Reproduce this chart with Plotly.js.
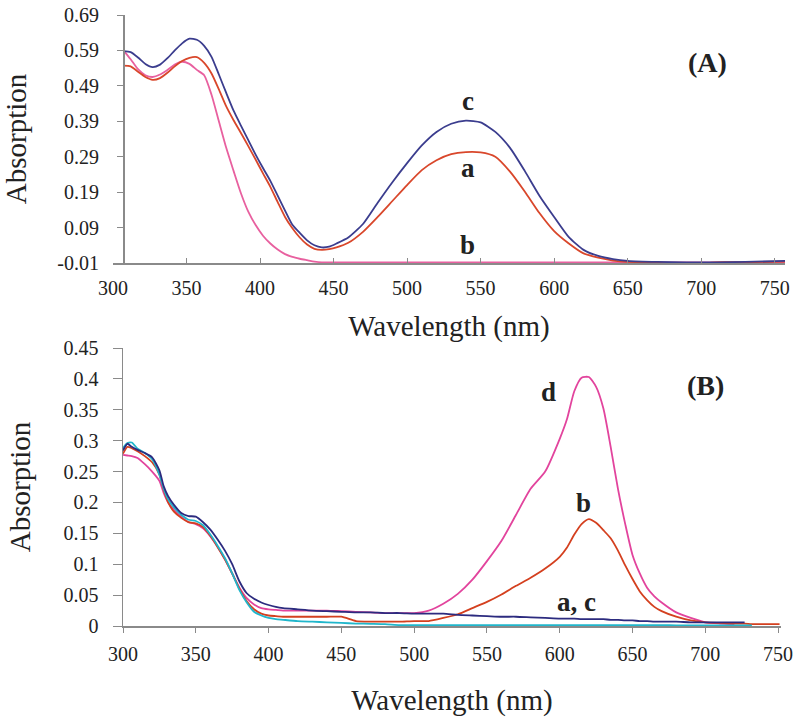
<!DOCTYPE html>
<html>
<head>
<meta charset="utf-8">
<script src="https://cdn.plot.ly/plotly-3.0.1.min.js"></script>
<style>
  html, body { margin: 0; padding: 0; background: #fff; }
  #chart { width: 800px; height: 721px; }
</style>
</head>
<body>
<div id="chart"></div>
<script>
// ---- panel (A): UV-vis of a, b, c ----
var wlA = [307, 312, 317, 322, 327, 332, 337, 342, 347, 352, 357, 362, 367, 372, 377, 382, 387, 392, 397, 402,
  407, 412, 417, 422, 427, 432, 437, 442, 447, 452, 460, 470, 480, 490, 500, 510, 520, 530, 540, 550,
  560, 570, 580, 590, 600, 610, 620, 630, 640, 650, 670, 690, 710, 730, 757];

var absA_a = [0.547, 0.545, 0.530, 0.515, 0.507, 0.512, 0.527, 0.545, 0.560, 0.569, 0.571, 0.555, 0.525, 0.480, 0.432, 0.393, 0.357, 0.320, 0.282, 0.243,
  0.205, 0.162, 0.120, 0.088, 0.062, 0.042, 0.030, 0.027, 0.029, 0.034, 0.047, 0.078, 0.120, 0.165, 0.210, 0.252, 0.280, 0.297, 0.303, 0.302,
  0.290, 0.248, 0.192, 0.131, 0.080, 0.045, 0.017, 0.005, -0.003, -0.007, -0.008, -0.015, -0.008, -0.008, -0.006];

var absA_b = [0.591, 0.565, 0.537, 0.520, 0.515, 0.522, 0.535, 0.550, 0.558, 0.552, 0.535, 0.520, 0.465, 0.390, 0.315, 0.250, 0.187, 0.135, 0.097, 0.067,
  0.045, 0.028, 0.015, 0.007, 0.002, -0.002, -0.006, -0.008, -0.008, -0.008, -0.008, -0.008, -0.008, -0.008, -0.008, -0.008, -0.008, -0.008, -0.008, -0.008,
  -0.008, -0.008, -0.008, -0.008, -0.008, -0.008, -0.008, -0.008, -0.008, -0.008, -0.008, -0.008, -0.008, -0.008, -0.008];

var absA_c = [0.588, 0.585, 0.570, 0.552, 0.543, 0.550, 0.568, 0.590, 0.610, 0.623, 0.620, 0.603, 0.572, 0.522, 0.470, 0.420, 0.378, 0.337, 0.296, 0.258,
  0.222, 0.180, 0.138, 0.098, 0.075, 0.054, 0.040, 0.034, 0.036, 0.045, 0.062, 0.100, 0.160, 0.218, 0.272, 0.322, 0.360, 0.383, 0.392, 0.387,
  0.360, 0.315, 0.250, 0.180, 0.120, 0.063, 0.027, 0.010, 0.001, -0.004, -0.007, -0.008, -0.008, -0.007, -0.004];

var tickA = [-0.01, 0.09, 0.19, 0.29, 0.39, 0.49, 0.59, 0.69];
var tickA_text = ['-0.01', '0.09', '0.19', '0.29', '0.39', '0.49', '0.59', '0.69'];

// ---- panel (B): a, b, c, d ----
var wlB = [300, 303, 306, 310, 315, 320, 325, 328, 331, 335, 340, 345, 350, 355, 360, 365, 370, 375, 380, 385,
  390, 395, 400, 405, 410, 420, 430, 440, 450, 460, 470, 480, 490, 500, 510, 520, 530, 540, 550, 560,
  570, 580, 590, 600, 605, 610, 615, 620, 625, 630, 635, 640, 645, 650, 655, 660, 665, 670, 680, 690,
  700, 710, 720, 727, 732, 740, 751];

var absB_a = [0.284, 0.295, 0.290, 0.285, 0.280, 0.273, 0.252, 0.226, 0.210, 0.196, 0.183, 0.178, 0.177, 0.168, 0.156, 0.140, 0.122, 0.100, 0.072, 0.053,
  0.044, 0.038, 0.034, 0.031, 0.029, 0.027, 0.025, 0.024, 0.023, 0.022, 0.022, 0.021, 0.021, 0.020, 0.020, 0.020, 0.018, 0.017, 0.016, 0.015,
  0.015, 0.014, 0.013, 0.012, 0.012, 0.012, 0.011, 0.011, 0.011, 0.011, 0.010, 0.010, 0.009, 0.009, 0.008, 0.008, 0.007, 0.007, 0.007, 0.006,
  0.006, 0.006, 0.006, 0.006, null, null, null];

var absB_b = [0.279, 0.290, 0.288, 0.283, 0.275, 0.265, 0.245, 0.220, 0.200, 0.185, 0.175, 0.168, 0.166, 0.160, 0.146, 0.128, 0.108, 0.085, 0.060, 0.040,
  0.027, 0.020, 0.017, 0.016, 0.015, 0.015, 0.015, 0.015, 0.015, 0.008, 0.007, 0.007, 0.007, 0.008, 0.008, 0.013, 0.019, 0.029, 0.039, 0.051,
  0.065, 0.078, 0.093, 0.112, 0.127, 0.148, 0.165, 0.173, 0.167, 0.155, 0.142, 0.122, 0.098, 0.076, 0.056, 0.042, 0.031, 0.024, 0.015, 0.009,
  0.006, 0.005, 0.004, 0.004, 0.003, 0.003, 0.003];

var absB_c = [0.288, 0.296, 0.297, 0.287, 0.280, 0.270, 0.245, 0.222, 0.205, 0.192, 0.180, 0.172, 0.170, 0.163, 0.148, 0.130, 0.110, 0.085, 0.058, 0.038,
  0.023, 0.017, 0.013, 0.011, 0.010, 0.008, 0.007, 0.006, 0.005, 0.004, 0.0035, 0.003, 0.0015, 0.0015, 0.0015, 0.0015, 0.0015, 0.0015, 0.0015, 0.0015,
  0.0015, 0.0015, 0.0015, 0.0015, 0.0015, 0.0015, 0.0015, 0.0015, 0.0015, 0.0015, 0.0015, 0.0015, 0.0015, 0.0015, 0.0015, 0.0015, 0.0015, 0.0015, 0.001, 0.001,
  0.001, 0.001, 0.001, 0.001, 0.001, null, null];

var absB_d = [0.277, 0.276, 0.275, 0.272, 0.262, 0.250, 0.235, 0.215, 0.200, 0.188, 0.177, 0.168, 0.165, 0.158, 0.145, 0.128, 0.108, 0.085, 0.062, 0.045,
  0.035, 0.029, 0.027, 0.026, 0.025, 0.025, 0.025, 0.025, 0.024, 0.023, 0.022, 0.021, 0.021, 0.021, 0.025, 0.036, 0.052, 0.075, 0.105, 0.138,
  0.180, 0.222, 0.250, 0.303, 0.335, 0.380, 0.402, 0.403, 0.387, 0.352, 0.290, 0.222, 0.165, 0.115, 0.085, 0.062, 0.048, 0.038, 0.022, 0.013,
  0.006, 0.004, 0.003, null, null, null, null];

var tickB = [0, 0.05, 0.1, 0.15, 0.2, 0.25, 0.3, 0.35, 0.4, 0.45];
var tickB_text = ['0', '0.05', '0.1', '0.15', '0.2', '0.25', '0.3', '0.35', '0.4', '0.45'];

var wlTicks = [300, 350, 400, 450, 500, 550, 600, 650, 700, 750];

var serif = 'Liberation Serif';
var axisGrey = '#8a8a8a';

function line(x, y, color, xa, ya) {
  return {
    type: 'scatter', mode: 'lines', x: x, y: y,
    xaxis: xa, yaxis: ya, connectgaps: false,
    line: { color: color, width: 1.8, shape: 'spline', smoothing: 0.6 },
    hoverinfo: 'skip', showlegend: false
  };
}

var data = [
  line(wlA, absA_b, '#e8609f', 'x', 'y'),
  line(wlA, absA_a, '#d9472b', 'x', 'y'),
  line(wlA, absA_c, '#3b3d8e', 'x', 'y'),
  line(wlB, absB_d, '#e2449d', 'x2', 'y2'),
  line(wlB, absB_b, '#d4401f', 'x2', 'y2'),
  line(wlB, absB_c, '#20b6cb', 'x2', 'y2'),
  line(wlB, absB_a, '#2c2b7f', 'x2', 'y2')
];

function f(size) { return { family: serif, size: size, color: '#222' }; }

var layout = {
  width: 800, height: 721,
  margin: { l: 0, r: 0, t: 0, b: 0 },
  paper_bgcolor: '#fff', plot_bgcolor: '#fff',
  font: f(20),
  xaxis: {
    domain: [113 / 800, 785 / 800], range: [300, 757], anchor: 'y',
    tickvals: wlTicks, ticks: 'inside', ticklen: 5, tickcolor: axisGrey,
    showline: true, linecolor: axisGrey, linewidth: 1.5, showgrid: false, zeroline: false,
    tickfont: f(20), ticklabelstandoff: 6,
    title: { text: 'Wavelength (nm)', font: f(29), standoff: 18 }
  },
  yaxis: {
    domain: [1 - 263 / 721, 1 - 15 / 721], range: [-0.01, 0.69],
    anchor: 'free', position: 123 / 800,
    tickvals: tickA, ticktext: tickA_text, ticks: 'outside', ticklen: 6, tickcolor: axisGrey,
    showline: true, linecolor: axisGrey, linewidth: 1.5, showgrid: false, zeroline: false,
    tickfont: f(20), ticklabelstandoff: 14,
    title: { text: 'Absorption', font: f(29), standoff: 24 }
  },
  xaxis2: {
    domain: [123 / 800, 781 / 800], range: [300, 752], anchor: 'y2',
    tickvals: wlTicks, ticks: 'outside', ticklen: 5, tickcolor: axisGrey,
    showline: true, linecolor: axisGrey, linewidth: 1.5, showgrid: false, zeroline: false,
    tickfont: f(20), ticklabelstandoff: 4,
    title: { text: 'Wavelength (nm)', font: f(29), standoff: 26 }
  },
  yaxis2: {
    domain: [1 - 626 / 721, 1 - 348 / 721], range: [0, 0.45], anchor: 'x2',
    tickvals: tickB, ticktext: tickB_text, ticks: 'outside', ticklen: 9, tickcolor: axisGrey,
    showline: true, linecolor: axisGrey, linewidth: 1.5, showgrid: false, zeroline: false,
    tickfont: f(20), ticklabelstandoff: 10,
    title: { text: 'Absorption', font: f(29), standoff: 24 }
  },
  annotations: [
    { xref: 'x', yref: 'y', x: 704.5, y: 0.555, text: '<b>(A)</b>', showarrow: false, font: f(28) },
    { xref: 'x', yref: 'y', x: 541.3, y: 0.447, text: '<b>c</b>', showarrow: false, font: f(27) },
    { xref: 'x', yref: 'y', x: 541.3, y: 0.258, text: '<b>a</b>', showarrow: false, font: f(27) },
    { xref: 'x', yref: 'y', x: 541.3, y: 0.041, text: '<b>b</b>', showarrow: false, font: f(27) },
    { xref: 'x2', yref: 'y2', x: 700.4, y: 0.39, text: '<b>(B)</b>', showarrow: false, font: f(28) },
    { xref: 'x2', yref: 'y2', x: 592.6, y: 0.379, text: '<b>d</b>', showarrow: false, font: f(27) },
    { xref: 'x2', yref: 'y2', x: 616, y: 0.199, text: '<b>b</b>', showarrow: false, font: f(27) },
    { xref: 'x2', yref: 'y2', x: 611.8, y: 0.039, text: '<b>a, c</b>', showarrow: false, font: f(27) }
  ]
};

Plotly.newPlot('chart', data, layout, { staticPlot: true });
</script>
</body>
</html>
